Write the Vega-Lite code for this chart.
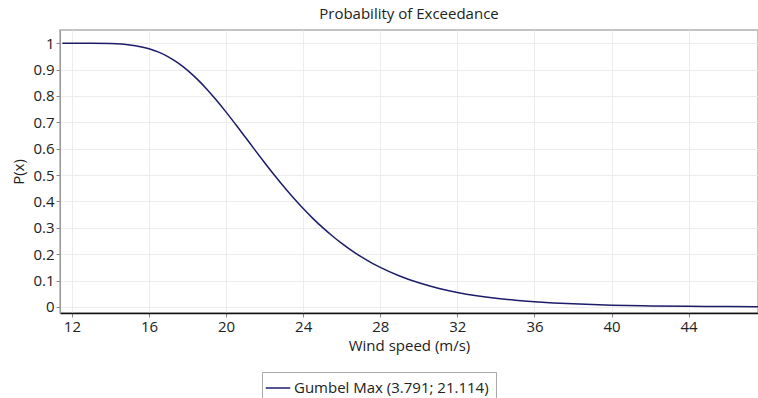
{
  "$schema": "https://vega.github.io/schema/vega-lite/v6.json",
  "autosize": {"type": "none"},
  "width": 698,
  "height": 283,
  "padding": {"left": 60, "top": 30, "right": 0, "bottom": 85},
  "background": "white",
  "title": {"text": "Probability of Exceedance", "font": "Open Sans", "fontSize": 15, "fontWeight": "normal", "color": "#222", "offset": 8},
  "config": {
    "view": {"stroke": "#b0b0b0", "strokeWidth": 1.5}
  },
  "data": {"values": [
    {"x": 11.5, "p": 1.0, "s": "Gumbel Max  (3.791; 21.114)"},
    {"x": 12, "p": 1.0, "s": "Gumbel Max  (3.791; 21.114)"},
    {"x": 13, "p": 0.9998, "s": "Gumbel Max  (3.791; 21.114)"},
    {"x": 14, "p": 0.9985, "s": "Gumbel Max  (3.791; 21.114)"},
    {"x": 15, "p": 0.9934, "s": "Gumbel Max  (3.791; 21.114)"},
    {"x": 16, "p": 0.9788, "s": "Gumbel Max  (3.791; 21.114)"},
    {"x": 16.5, "p": 0.9659, "s": "Gumbel Max  (3.791; 21.114)"},
    {"x": 17, "p": 0.9482, "s": "Gumbel Max  (3.791; 21.114)"},
    {"x": 17.5, "p": 0.9253, "s": "Gumbel Max  (3.791; 21.114)"},
    {"x": 18, "p": 0.8971, "s": "Gumbel Max  (3.791; 21.114)"},
    {"x": 18.5, "p": 0.8637, "s": "Gumbel Max  (3.791; 21.114)"},
    {"x": 19, "p": 0.8256, "s": "Gumbel Max  (3.791; 21.114)"},
    {"x": 19.5, "p": 0.7836, "s": "Gumbel Max  (3.791; 21.114)"},
    {"x": 20, "p": 0.7386, "s": "Gumbel Max  (3.791; 21.114)"},
    {"x": 20.5, "p": 0.6914, "s": "Gumbel Max  (3.791; 21.114)"},
    {"x": 21, "p": 0.6432, "s": "Gumbel Max  (3.791; 21.114)"},
    {"x": 21.5, "p": 0.5947, "s": "Gumbel Max  (3.791; 21.114)"},
    {"x": 22, "p": 0.5469, "s": "Gumbel Max  (3.791; 21.114)"},
    {"x": 22.5, "p": 0.5003, "s": "Gumbel Max  (3.791; 21.114)"},
    {"x": 23, "p": 0.4556, "s": "Gumbel Max  (3.791; 21.114)"},
    {"x": 23.5, "p": 0.4131, "s": "Gumbel Max  (3.791; 21.114)"},
    {"x": 24, "p": 0.3732, "s": "Gumbel Max  (3.791; 21.114)"},
    {"x": 24.5, "p": 0.3359, "s": "Gumbel Max  (3.791; 21.114)"},
    {"x": 25, "p": 0.3015, "s": "Gumbel Max  (3.791; 21.114)"},
    {"x": 25.5, "p": 0.2698, "s": "Gumbel Max  (3.791; 21.114)"},
    {"x": 26, "p": 0.2409, "s": "Gumbel Max  (3.791; 21.114)"},
    {"x": 26.5, "p": 0.2146, "s": "Gumbel Max  (3.791; 21.114)"},
    {"x": 27, "p": 0.1908, "s": "Gumbel Max  (3.791; 21.114)"},
    {"x": 27.5, "p": 0.1693, "s": "Gumbel Max  (3.791; 21.114)"},
    {"x": 28, "p": 0.1501, "s": "Gumbel Max  (3.791; 21.114)"},
    {"x": 29, "p": 0.1174, "s": "Gumbel Max  (3.791; 21.114)"},
    {"x": 30, "p": 0.0915, "s": "Gumbel Max  (3.791; 21.114)"},
    {"x": 31, "p": 0.071, "s": "Gumbel Max  (3.791; 21.114)"},
    {"x": 32, "p": 0.055, "s": "Gumbel Max  (3.791; 21.114)"},
    {"x": 33, "p": 0.0425, "s": "Gumbel Max  (3.791; 21.114)"},
    {"x": 34, "p": 0.0328, "s": "Gumbel Max  (3.791; 21.114)"},
    {"x": 35, "p": 0.0253, "s": "Gumbel Max  (3.791; 21.114)"},
    {"x": 36, "p": 0.0195, "s": "Gumbel Max  (3.791; 21.114)"},
    {"x": 37, "p": 0.015, "s": "Gumbel Max  (3.791; 21.114)"},
    {"x": 38, "p": 0.0116, "s": "Gumbel Max  (3.791; 21.114)"},
    {"x": 40, "p": 0.0068, "s": "Gumbel Max  (3.791; 21.114)"},
    {"x": 42, "p": 0.004, "s": "Gumbel Max  (3.791; 21.114)"},
    {"x": 44, "p": 0.0024, "s": "Gumbel Max  (3.791; 21.114)"},
    {"x": 46, "p": 0.0014, "s": "Gumbel Max  (3.791; 21.114)"},
    {"x": 47.6, "p": 0.0009, "s": "Gumbel Max  (3.791; 21.114)"}
  ]},
  "mark": {"type": "line", "interpolate": "monotone", "strokeWidth": 1.5, "clip": true},
  "encoding": {
    "x": {"field": "x", "type": "quantitative", "title": "Wind speed (m/s)",
      "scale": {"domain": [11.38, 47.6], "nice": false, "zero": false},
      "axis": {"values": [12, 16, 20, 24, 28, 32, 36, 40, 44], "format": "d", "domainColor": "#111", "domainWidth": 1.5, "tickSize": 4, "tickColor": "#888", "labelPadding": 2, "titlePadding": 4, "gridColor": "#ececec",
        "labelFont": "Open Sans", "titleFont": "Open Sans", "labelFontSize": 15, "titleFontSize": 15, "titleFontWeight": "normal", "labelColor": "#222", "titleColor": "#222"}},
    "y": {"field": "p", "type": "quantitative", "title": "P(x)",
      "scale": {"domain": [-0.023, 1.05], "nice": false, "zero": false},
      "axis": {"values": [0, 0.1, 0.2, 0.3, 0.4, 0.5, 0.6, 0.7, 0.8, 0.9, 1], "format": "~g", "domainColor": "#999", "tickSize": 4, "tickColor": "#888", "labelPadding": 2, "titlePadding": 6, "gridColor": "#ececec",
        "labelFont": "Open Sans", "titleFont": "Open Sans", "labelFontSize": 15, "titleFontSize": 15, "titleFontWeight": "normal", "labelColor": "#222", "titleColor": "#222"}},
    "color": {"field": "s", "type": "nominal", "title": null,
      "scale": {"range": ["#1c1c6a"]},
      "legend": {"orient": "none", "legendX": 202, "legendY": 342, "symbolType": "stroke", "symbolSize": 600, "symbolStrokeWidth": 1.5, "strokeColor": "#aaa", "padding": 3, "labelFont": "Open Sans", "labelFontSize": 15, "labelColor": "#222", "labelOffset": 3, "labelLimit": 400}}
  }
}
